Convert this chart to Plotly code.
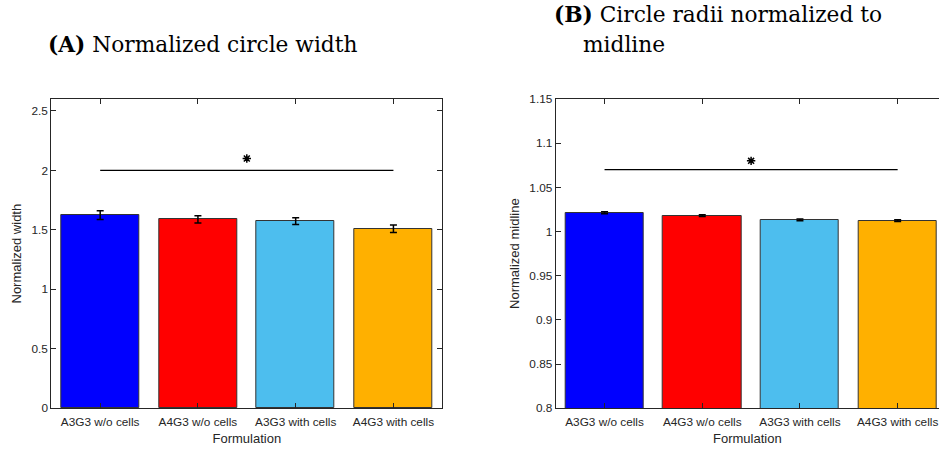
import plotly.graph_objects as go

categories = ["A3G3 w/o cells", "A4G3 w/o cells", "A3G3 with cells", "A4G3 with cells"]
colors = ["#0000FF", "#FF0000", "#4DBEEE", "#FFB000"]

width_vals = [1.624, 1.588, 1.573, 1.509]
width_err = [0.036, 0.031, 0.029, 0.032]
midline_vals = [1.0213, 1.0179, 1.0131, 1.0123]
midline_err = [0.0012, 0.0010, 0.0010, 0.0010]

sig_a_y = 2.0
sig_a_star = 2.1
sig_b_y = 1.07
sig_b_star = 1.08

xpos = [1, 2, 3, 4]
W, H = 939, 450


def px(xp):
    return xp / W


def py(yp):
    return 1 - yp / H


AX = "#262626"
tickfont = dict(family="Liberation Sans, Arial, sans-serif", size=11.8, color=AX)
labfont = dict(family="Liberation Sans, Arial, sans-serif", size=13, color=AX)

fig = go.Figure()

for xa, ya, vals, errs, sy, ss in [("x", "y", width_vals, width_err, sig_a_y, sig_a_star),
                                    ("x2", "y2", midline_vals, midline_err, sig_b_y, sig_b_star)]:
    fig.add_trace(go.Bar(
        x=xpos, y=vals, width=0.8, marker=dict(color=colors, line=dict(color="#333333", width=1)),
        error_y=dict(type="data", array=errs, color="black", thickness=1.5, width=3.5),
        xaxis=xa, yaxis=ya, showlegend=False, hoverinfo="skip"))
    fig.add_trace(go.Scatter(x=[xpos[0], xpos[-1]], y=[sy, sy], mode="lines",
                             line=dict(color="black", width=1.2), xaxis=xa, yaxis=ya, showlegend=False,
                             hoverinfo="skip"))
    fig.add_trace(go.Scatter(x=[(xpos[0] + xpos[-1]) / 2], y=[ss], mode="markers",
                             marker=dict(symbol="asterisk-open", size=7, color="black",
                                         line=dict(color="black", width=1.5)),
                             xaxis=xa, yaxis=ya, showlegend=False, hoverinfo="skip"))

ydom = [py(408.3), py(99)]
common_x = dict(tickmode="array", tickvals=xpos, ticktext=categories, ticks="inside", ticklen=5,
                tickcolor=AX, showline=True, linecolor=AX, linewidth=1, mirror="allticks",
                showgrid=False, zeroline=False, tickfont=tickfont, automargin=False,
                ticklabelstandoff=3,
                title=dict(text="Formulation", font=labfont, standoff=5))
common_y = dict(ticks="inside", ticklen=5, tickcolor=AX, showline=True, linecolor=AX, linewidth=1,
                showgrid=False, zeroline=False, tickfont=tickfont, automargin=False)

fig.update_layout(
    width=W, height=H, margin=dict(l=0, r=0, t=0, b=0),
    paper_bgcolor="white", plot_bgcolor="white", bargap=0,
    xaxis=dict(domain=[px(51.3), px(442.3)], range=[0.5, 4.5], anchor="y", **common_x),
    yaxis=dict(domain=ydom, range=[0, 2.6], tickvals=[0, 0.5, 1, 1.5, 2, 2.5],
               ticktext=["0", "0.5", "1", "1.5", "2", "2.5"], mirror="allticks", anchor="x",
               title=dict(text="Normalized width", font=labfont, standoff=6), **common_y),
    xaxis2=dict(domain=[px(555.7), 1.0], range=[0.5, 0.5 + (939 - 555.7) / 97.7], anchor="y2", **common_x),
    yaxis2=dict(domain=ydom, range=[0.8, 1.15], tickvals=[0.8, 0.85, 0.9, 0.95, 1, 1.05, 1.1, 1.15],
                ticktext=["0.8", "0.85", "0.9", "0.95", "1", "1.05", "1.1", "1.15"], mirror=False, anchor="x2",
                title=dict(text="Normalized midline", font=labfont, standoff=6), **common_y),
)

tfont = dict(family="DejaVu Serif, serif", size=21.7, color="black")


def title(txt, xpage, center):
    fig.add_annotation(text=txt, xref="paper", yref="paper", x=px(xpage - 4), y=py(center),
                       xanchor="left", yanchor="middle", showarrow=False, font=tfont)


title("<b>(A)</b> Normalized circle width", 50, 45)
title("<b>(B)</b> Circle radii normalized to", 556, 15)
title("midline", 585, 45)

fig.write_html("out.html", config={"displayModeBar": False},
               post_script="document.body.style.margin='0';document.body.style.overflow='hidden';")
